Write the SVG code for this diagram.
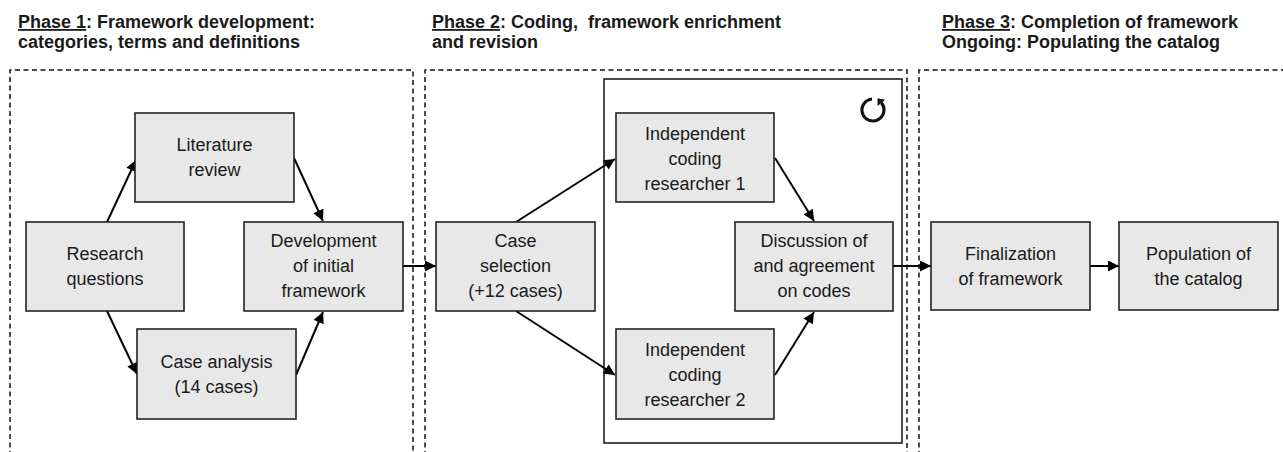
<svg xmlns="http://www.w3.org/2000/svg" width="1283" height="452" viewBox="0 0 1283 452">
  <style>
    .hdr { font-family: "Liberation Sans", Arial, sans-serif; font-size: 18px; font-weight: bold; fill: #1a1a1a; }
    .u { text-decoration: underline; }
    .lbl { font-family: "Liberation Sans", Arial, sans-serif; font-size: 18px; fill: #1a1a1a; text-anchor: middle; }
    .box { fill: #e8e8e8; stroke: #222; stroke-width: 1.6; }
    .phase { fill: none; stroke: #111; stroke-width: 1.5; stroke-dasharray: 5 3.5; }
    .loop { fill: none; stroke: #111; stroke-width: 1.5; }
    .edge { fill: none; stroke: #000; stroke-width: 2; marker-end: url(#arrow); }
  </style>
  <defs>
    <marker id="arrow" viewBox="0 0 10 10" refX="10" refY="5" markerWidth="6" markerHeight="5.5" orient="auto" markerUnits="strokeWidth">
      <path d="M0,0 L10,5 L0,10 z" fill="#000"/>
    </marker>
  </defs>

  <rect width="1283" height="452" fill="#fff"/>

  <!-- phase headings -->
  <g id="headings">
    <text class="hdr" x="18" y="28"><tspan class="u">Phase 1</tspan>: Framework development:</text>
    <text class="hdr" x="18" y="48">categories, terms and definitions</text>
    <text class="hdr" x="432" y="28" xml:space="preserve"><tspan class="u">Phase 2</tspan>: Coding,  framework enrichment</text>
    <text class="hdr" x="432" y="48">and revision</text>
    <text class="hdr" x="942" y="28"><tspan class="u">Phase 3</tspan>: Completion of framework</text>
    <text class="hdr" x="942" y="48">Ongoing: Populating the catalog</text>
  </g>

  <!-- phase areas (open at the bottom) -->
  <g id="phases">
    <path class="phase" d="M10,456 V70 H413 V456"/>
    <path class="phase" d="M425,456 V70 H907 V456"/>
    <path class="phase" d="M919,456 V70 H1290"/>
  </g>

  <!-- iteration frame with loop icon -->
  <g id="iteration">
    <rect class="loop" x="604" y="79" width="298" height="364"/>
    <path d="M872,99 A11,11 0 1 0 881.4,102.9" fill="none" stroke="#111" stroke-width="3.2"/>
    <path d="M885.2,99.7 L877.6,106.1 L877.5,98.3 z" fill="#111"/>
  </g>

  <!-- connectors -->
  <g id="connectors">
    <line class="edge" x1="107" y1="222" x2="136" y2="160"/>
    <line class="edge" x1="294" y1="158" x2="323" y2="221"/>
    <line class="edge" x1="107" y1="311" x2="137" y2="374"/>
    <line class="edge" x1="296" y1="375" x2="323" y2="312"/>
    <line class="edge" x1="403" y1="266" x2="436" y2="266"/>
    <line class="edge" x1="516" y1="222" x2="615" y2="159"/>
    <line class="edge" x1="516" y1="311" x2="615" y2="375"/>
    <line class="edge" x1="775" y1="158" x2="814" y2="221"/>
    <line class="edge" x1="775" y1="375" x2="814" y2="312"/>
    <line class="edge" x1="893" y1="266" x2="931" y2="266"/>
    <line class="edge" x1="1090" y1="266" x2="1119" y2="266"/>
  </g>

  <!-- phase 1 nodes -->
  <g id="research-questions">
    <rect class="box" x="26" y="222" width="158" height="89"/>
    <text class="lbl" x="105" y="260">Research</text>
    <text class="lbl" x="105" y="285">questions</text>
  </g>
  <g id="literature-review">
    <rect class="box" x="135" y="113" width="159" height="89"/>
    <text class="lbl" x="214.5" y="151">Literature</text>
    <text class="lbl" x="214.5" y="176">review</text>
  </g>
  <g id="case-analysis">
    <rect class="box" x="137" y="329" width="159" height="90"/>
    <text class="lbl" x="216.5" y="368">Case analysis</text>
    <text class="lbl" x="216.5" y="393">(14 cases)</text>
  </g>
  <g id="initial-framework">
    <rect class="box" x="244" y="222" width="159" height="89"/>
    <text class="lbl" x="323.5" y="247">Development</text>
    <text class="lbl" x="323.5" y="272">of initial</text>
    <text class="lbl" x="323.5" y="297">framework</text>
  </g>

  <!-- phase 2 nodes -->
  <g id="case-selection">
    <rect class="box" x="436" y="222" width="159" height="89"/>
    <text class="lbl" x="515.5" y="247">Case</text>
    <text class="lbl" x="515.5" y="272">selection</text>
    <text class="lbl" x="515.5" y="297">(+12 cases)</text>
  </g>
  <g id="coding-researcher-1">
    <rect class="box" x="616" y="113" width="158" height="89"/>
    <text class="lbl" x="695" y="140">Independent</text>
    <text class="lbl" x="695" y="165">coding</text>
    <text class="lbl" x="695" y="190">researcher 1</text>
  </g>
  <g id="coding-researcher-2">
    <rect class="box" x="616" y="329" width="158" height="90"/>
    <text class="lbl" x="695" y="356">Independent</text>
    <text class="lbl" x="695" y="381">coding</text>
    <text class="lbl" x="695" y="406">researcher 2</text>
  </g>
  <g id="discussion">
    <rect class="box" x="735" y="222" width="158" height="89"/>
    <text class="lbl" x="814" y="247">Discussion of</text>
    <text class="lbl" x="814" y="272">and agreement</text>
    <text class="lbl" x="814" y="297">on codes</text>
  </g>

  <!-- phase 3 nodes -->
  <g id="finalization">
    <rect class="box" x="931" y="222" width="159" height="88"/>
    <text class="lbl" x="1010.5" y="260">Finalization</text>
    <text class="lbl" x="1010.5" y="285">of framework</text>
  </g>
  <g id="population">
    <rect class="box" x="1119" y="222" width="159" height="88"/>
    <text class="lbl" x="1198.5" y="260">Population of</text>
    <text class="lbl" x="1198.5" y="285">the catalog</text>
  </g>
</svg>
